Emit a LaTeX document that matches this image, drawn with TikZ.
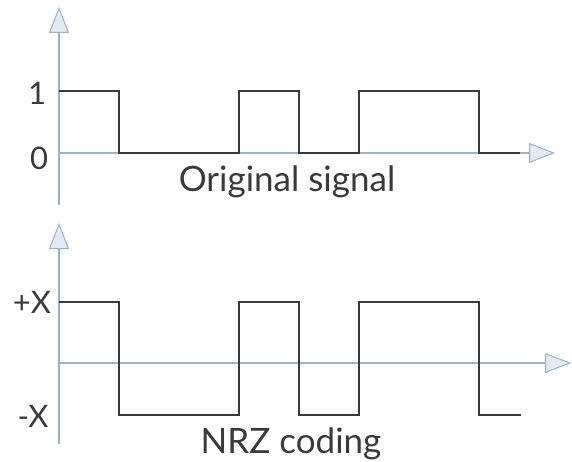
\documentclass[tikz,border=0pt]{standalone}
\usepackage{fontspec}
\setmainfont{Lato}
\usepackage{xcolor}
\usepackage{tikz}
\usetikzlibrary{positioning, arrows.meta}
\definecolor{axisblue}{HTML}{9CB2C9}
\definecolor{tipfill}{HTML}{E2EAF3}
\definecolor{wavegray}{HTML}{3A3A3A}
\tikzset{
  axisline/.style={draw=axisblue, line width=1.4pt,
    -{Triangle[length=26pt, width=20pt, fill=tipfill, line width=1pt]}},
  waveline/.style={draw=wavegray, line width=2.3pt},
  lbl/.style={font=\fontsize{31}{36}\selectfont, text=wavegray, inner sep=0pt},
  caption/.style={lbl, font=\fontsize{35}{40}\selectfont, anchor=base}
}

\begin{document}
\begin{tikzpicture}[x=1pt, y=-1pt]
    \useasboundingbox (0,0) rectangle (572,462);
    % original signal
    \coordinate (topo) at (59,153);
    \coordinate (topy) at (59,7);
    \coordinate (topb) at (59,205);
    \coordinate (topx) at (555,153);
    \draw[axisline] (topb) -- (topy);
    \draw[axisline] (topo) -- (topx);
    \draw[waveline] (59,91) -- (119,91) -- (119,153) -- (239,153) -- (239,91)
      -- (299,91) -- (299,153) -- (359,153) -- (359,91) -- (479,91)
      -- (479,153) -- (520,153);
    \node[lbl] (one) at (37,93) {1};
    \node[lbl] (zero) at (39,158) {0};
    \node[caption] (orig) at (287,192) {Original signal};
    % NRZ coding
    \coordinate (boto) at (59,363);
    \coordinate (boty) at (59,223);
    \coordinate (botb) at (59,444);
    \coordinate (botx) at (571,363);
    \draw[axisline] (botb) -- (boty);
    \draw[axisline] (boto) -- (botx);
    \draw[waveline] (59,302) -- (119,302) -- (119,415) -- (239,415) -- (239,302)
      -- (299,302) -- (299,415) -- (359,415) -- (359,302) -- (479,302)
      -- (479,415) -- (521,415);
    \node[lbl] (plusx) at (32,302) {+X};
    \node[lbl] (minusx) at (33,416) {-X};
    \node[caption] (nrz) at (291,453) {NRZ coding};
\end{tikzpicture}
\end{document}
